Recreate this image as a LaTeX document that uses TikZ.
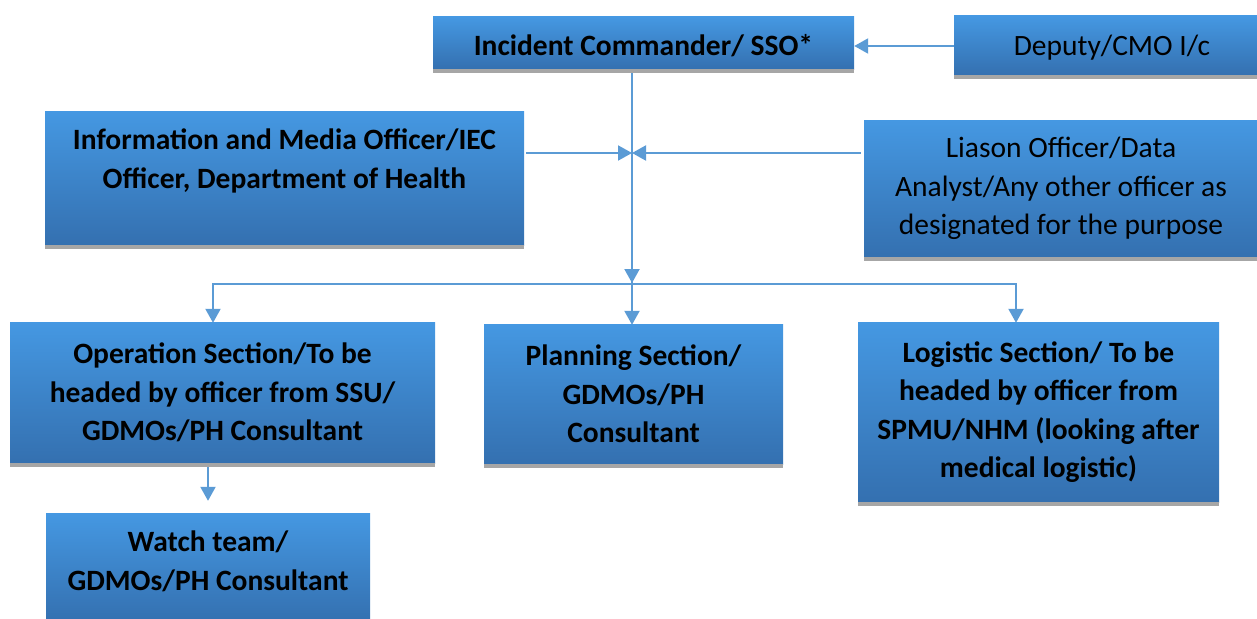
\documentclass[tikz,border=0pt]{standalone}
\usepackage{fontspec}
\setmainfont{Carlito}
\usetikzlibrary{arrows.meta,shadings}
\definecolor{boxtop}{RGB}{69,152,226}
\definecolor{boxbot}{RGB}{52,112,176}
\definecolor{shgray}{RGB}{166,166,166}
\definecolor{conncol}{RGB}{91,155,213}
\tikzset{
  box/.style={rectangle, inner sep=0pt, top color=boxtop, bottom color=boxbot, draw=none,
    align=center, font=\bfseries\fontsize{29.5}{38.5}\selectfont, text=black},
  boxreg/.style={box, font=\fontsize{29.5}{38.5}\selectfont},
  conn/.style={draw=conncol, line width=2pt},
  arr/.style={conn, -{Triangle[width=15pt,length=14pt]}, shorten >=-1pt},
}
\begin{document}
\begin{tikzpicture}[x=1pt,y=-1pt]
\useasboundingbox (0,0) rectangle (1257,618);
\node[box, minimum width=421pt, minimum height=52pt] (ic) at (643.5,43) {\raisebox{-3pt}[\height][\depth]{Incident Commander/ SSO*}};
\node[boxreg, minimum width=316pt, minimum height=59pt] (dep) at (1112,45.5) {\raisebox{-2pt}[\height][\depth]{Deputy/CMO I/c}};
\node[box, minimum width=479pt, minimum height=134pt] (info) at (284.5,178) {Information and Media Officer/IEC\\Officer, Department of Health\\\mbox{}};
\node[boxreg, minimum width=394pt, minimum height=137pt] (li) at (1061,188.5) {Liason Officer/Data\\Analyst/Any other officer as\\designated for the purpose};
\node[box, minimum width=425pt, minimum height=141pt] (op) at (222.5,392.5) {Operation Section/To be\\headed by officer from SSU/\\GDMOs/PH Consultant};
\node[box, minimum width=299pt, minimum height=140pt] (pl) at (633.5,394) {Planning Section/\\GDMOs/PH\\Consultant};
\node[box, minimum width=361pt, minimum height=180pt] (lg) at (1038.5,412) {Logistic Section/ To be\\headed by officer from\\SPMU/NHM (looking after\\medical logistic)};
\node[box, minimum width=324pt, minimum height=109pt] (wt) at (208,567.5) {\raisebox{4pt}[\height][\depth]{\begin{tabular}{@{}c@{}}Watch team/\\GDMOs/PH Consultant\end{tabular}}};
\foreach \n in {ic,dep,info,li,op,pl,lg}{
  \fill[shgray] (\n.south west) rectangle ([yshift=-4pt]\n.south east);
}
\coordinate (j) at (632,284);
\coordinate (jl) at (213,284);
\coordinate (jr) at (1016,284);
\coordinate (m) at (632,153);
% main trunk
\draw[conn] ([yshift=-4pt]ic.south -| m) -- (j);
\draw[arr] ([yshift=-4pt]ic.south -| m) -- ([yshift=2pt]j);
\draw[conn] ([xshift=-1pt]jl) -- ([xshift=1pt]jr);
\draw[arr] (jl) -- (jl |- op.north);
\draw[arr] (j) -- (j |- pl.north);
\draw[arr] (jr) -- (jr |- lg.north);
% side arrows
\draw[arr] ([xshift=2pt]info.east |- m) -- ([xshift=-1pt]m);
\draw[arr] ([xshift=-3pt]li.west |- m) -- ([xshift=1pt]m);
\draw[arr] (dep.west |- 0,46) -- ([xshift=1pt]ic.east |- 0,46);
\draw[arr] ([yshift=-4pt]op.south -| 208,0) -- ([yshift=13pt]wt.north -| 208,0);
\end{tikzpicture}
\end{document}
